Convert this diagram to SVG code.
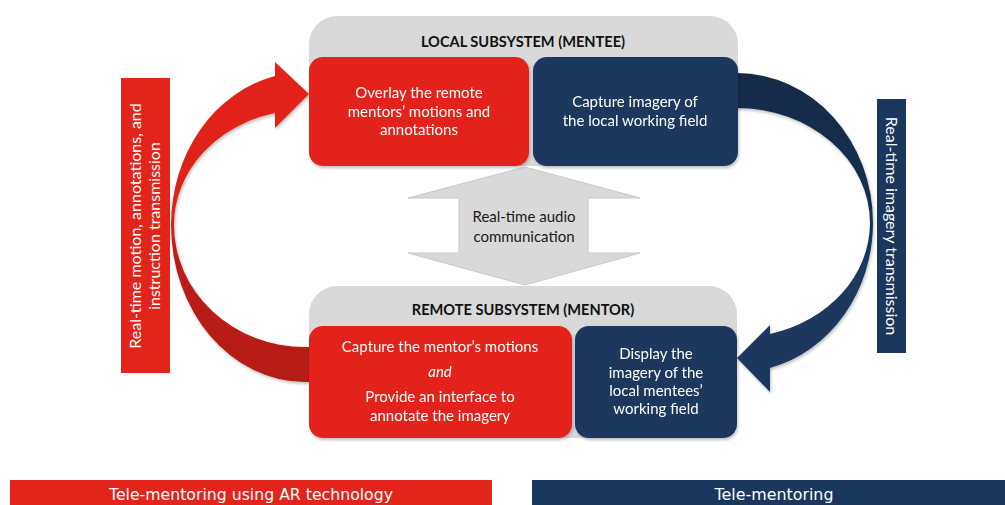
<svg xmlns="http://www.w3.org/2000/svg" width="1005" height="505" viewBox="0 0 1005 505">
<defs>
<style>
.t{font-family:Lato,"Open Sans","Liberation Sans",sans-serif;font-size:15px;fill:#ffffff;text-anchor:middle}
.l{font-family:Lato,"Open Sans","Liberation Sans",sans-serif;font-size:16px;fill:#ffffff;text-anchor:middle}
.g{font-family:"DejaVu Sans","Liberation Sans",sans-serif;font-size:15px;fill:#ffffff;text-anchor:middle}
.d{font-family:Lato,"Open Sans","Liberation Sans",sans-serif;font-size:15px;fill:#1a1a1a;text-anchor:middle}
.h{font-family:Lato,"Open Sans","Liberation Sans",sans-serif;font-size:14.6px;font-weight:bold;fill:#111111;text-anchor:middle}
.red{fill:#e3241a}
.blue{fill:#1a375e}
.gray{fill:#d9d9d9}
</style>
<filter id="sh" x="-10%" y="-10%" width="120%" height="130%">
<feDropShadow dx="1" dy="2" stdDeviation="1.5" flood-color="#000" flood-opacity="0.25"/>
</filter>
<linearGradient id="rg" gradientUnits="userSpaceOnUse" x1="0" y1="62" x2="0" y2="382">
<stop offset="0" stop-color="#e3241a"/>
<stop offset="0.47" stop-color="#df2319"/>
<stop offset="0.62" stop-color="#bb1c13"/>
<stop offset="1" stop-color="#b51a12"/>
</linearGradient>
<linearGradient id="bg" gradientUnits="userSpaceOnUse" x1="0" y1="73" x2="0" y2="392">
<stop offset="0" stop-color="#142b4a"/>
<stop offset="0.4" stop-color="#152e4f"/>
<stop offset="0.58" stop-color="#1a375e"/>
<stop offset="1" stop-color="#1a375e"/>
</linearGradient>
</defs>
<g id="connectors">
<path id="red-arrow" fill="url(#rg)" filter="url(#sh)" d="M 320 382 L 305 382 A 134 157 0 0 1 171 225 A 134 153 0 0 1 275 76 L 275 62 L 309 94 L 275 128 L 275 113 A 131 115 0 0 0 174 225 A 131 122 0 0 0 305 347 L 320 347 Z"/>
<path id="blue-arrow" fill="url(#bg)" filter="url(#sh)" d="M 725 73 L 737 73 A 136 150 0 0 1 873 223 A 136 150 0 0 1 770 368 L 770 392 L 737 358 L 770 325 L 770 334 A 133 115 0 0 0 870 223 A 133 115 0 0 0 737 108 L 725 108 Z"/>
<polygon id="audio-arrow" class="gray" stroke="#c8c8c8" stroke-width="1" points="525,167 640,198 588,198 588,253 640,253 525,285 408,253 459,253 459,198 408,198"/>
<text class="d" x="524" y="222">Real-time audio</text>
<text class="d" x="524" y="242">communication</text>
</g>
<g id="local-subsystem">
<rect class="gray" x="309" y="16" width="429" height="150" rx="28"/>
<text class="h" x="523" y="47">LOCAL SUBSYSTEM (MENTEE)</text>
</g>
<g id="overlay-node" filter="url(#sh)">
<rect class="red" x="309" y="57" width="220" height="109" rx="14"/>
<text class="t" x="419" y="98">Overlay the remote</text>
<text class="t" x="419" y="117">mentors’ motions and</text>
<text class="t" x="419" y="135">annotations</text>
</g>
<g id="capture-node" filter="url(#sh)">
<rect class="blue" x="533" y="57" width="205" height="109" rx="14"/>
<text class="t" x="635" y="107">Capture imagery of</text>
<text class="t" x="635" y="126">the local working field</text>
</g>
<g id="remote-subsystem">
<rect class="gray" x="309" y="286" width="428" height="152" rx="28"/>
<text class="h" x="523" y="315">REMOTE SUBSYSTEM (MENTOR)</text>
</g>
<g id="mentor-node" filter="url(#sh)">
<rect class="red" x="309" y="326" width="263" height="112" rx="14"/>
<text class="t" x="440" y="352">Capture the mentor’s motions</text>
<text class="t" x="440" y="377" font-style="italic">and</text>
<text class="t" x="440" y="402">Provide an interface to</text>
<text class="t" x="440" y="421">annotate the imagery</text>
</g>
<g id="display-node" filter="url(#sh)">
<rect class="blue" x="575" y="326" width="162" height="112" rx="14"/>
<text class="t" x="656" y="359">Display the</text>
<text class="t" x="656" y="378">imagery of the</text>
<text class="t" x="656" y="396">local mentees’</text>
<text class="t" x="656" y="414">working field</text>
</g>
<g id="left-label">
<rect class="red" x="121" y="78" width="49" height="295"/>
<text class="l" transform="translate(141 226) rotate(-90)">Real-time motion, annotations, and</text>
<text class="l" transform="translate(160 226) rotate(-90)">instruction transmission</text>
</g>
<g id="right-label">
<rect class="blue" x="877" y="99" width="29" height="254"/>
<text class="l" transform="translate(886 226) rotate(90)">Real-time  imagery transmission</text>
</g>
<g id="legend-ar">
<rect class="red" x="10" y="480" width="482" height="25"/>
<text class="g" x="251" y="500" textLength="284" lengthAdjust="spacingAndGlyphs">Tele-mentoring using AR technology</text>
</g>
<g id="legend-tm">
<rect class="blue" x="532" y="480" width="473" height="25"/>
<text class="g" x="774" y="500" textLength="119" lengthAdjust="spacingAndGlyphs">Tele-mentoring</text>
</g>
</svg>
